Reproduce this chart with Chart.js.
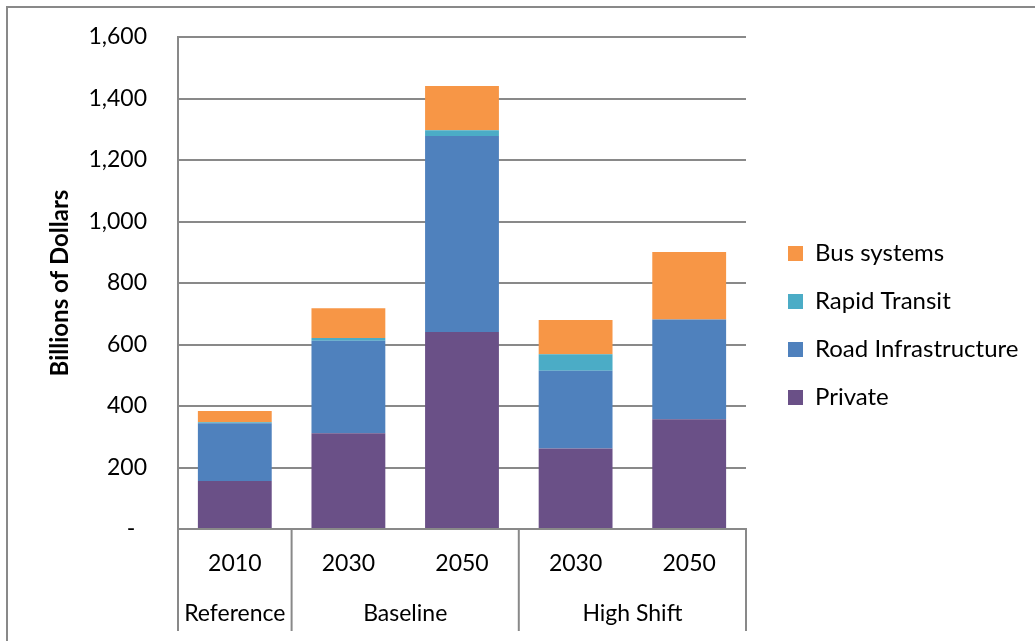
<!DOCTYPE html>
<html>
<head>
<meta charset="utf-8">
<script src="https://cdn.jsdelivr.net/npm/chart.js@4"></script>
<style>
  html, body { margin: 0; padding: 0; background: #fff; }
  #wrap { width: 1035px; height: 641px; position: relative; }
</style>
</head>
<body>
<div id="wrap"><canvas id="myChart" width="1035" height="641"></canvas></div>
<script>
// categories and groups on the x axis
const years = ['2010', '2030', '2050', '2030', '2050'];
const groupNames = ['Reference', 'Baseline', 'High Shift'];
const groupSizes = [1, 2, 2];

// billions of dollars
const privateVals = [156, 311, 641, 262, 357];
const roadVals = [188, 301, 637, 253, 324];
const rapidVals = [3, 9, 19, 53, 0];
const busVals = [37, 97, 144, 112, 220];

const yMax = 1600;
const yStep = 200;

const fontFamily = 'Lato, "Open Sans", sans-serif';
const gridColor = '#898989';
const labelSize = 23;
const legendSize = 24;
const legendPad = 24;
const legendBox = 15;
const legendLeft = 764;

const frame = {
        id: 'frame',
        beforeDraw(chart) {
                const ctx = chart.ctx;
                ctx.save();
                ctx.fillStyle = '#fff';
                ctx.fillRect(0, 0, chart.width, chart.height);
                ctx.strokeStyle = gridColor;
                ctx.lineWidth = 2;
                ctx.beginPath();
                ctx.moveTo(7, chart.height);
                ctx.lineTo(7, 7);
                ctx.lineTo(chart.width, 7);
                ctx.stroke();
                ctx.restore();
        }
};

// second row of the category axis: group names and the separators
const groupAxis = {
        id: 'groupAxis',
        afterDraw(chart) {
                const ctx = chart.ctx;
                const x = chart.scales.x;
                const half = (x.getPixelForValue(1) - x.getPixelForValue(0)) / 2;
                const top = x.top;
                const bottom = 631;
                ctx.save();
                ctx.strokeStyle = gridColor;
                ctx.lineWidth = 2;
                ctx.fillStyle = '#000';
                ctx.font = labelSize + 'px ' + fontFamily;
                ctx.textAlign = 'center';
                ctx.textBaseline = 'middle';
                let idx = 0;
                groupSizes.forEach((n, g) => {
                        const left = x.getPixelForValue(idx) - half;
                        const right = x.getPixelForValue(idx + n - 1) + half;
                        ctx.beginPath();
                        ctx.moveTo(left, top);
                        ctx.lineTo(left, bottom);
                        ctx.stroke();
                        ctx.fillText(groupNames[g], (left + right) / 2, 614);
                        idx += n;
                });
                ctx.beginPath();
                ctx.moveTo(x.right, top);
                ctx.lineTo(x.right, bottom);
                ctx.stroke();
                ctx.restore();
        }
};

function draw() {
        // room the legend needs, so the plot ends where the original does
        const measure = document.createElement('canvas').getContext('2d');
        measure.font = legendSize + 'px ' + fontFamily;
        const longest = Math.max(...['Bus systems', 'Rapid Transit', 'Road Infrastructure', 'Private'].map(t => measure.measureText(t).width));
        const legendWidth = legendPad + legendBox + legendSize / 2 + longest + 10;
        const padRight = Math.max(0, 1035 - legendLeft - legendWidth);

        const ctx = document.getElementById('myChart').getContext('2d');
        new Chart(ctx, {
                type: 'bar',
                data: {
                        labels: years,
                        datasets: [
                                { label: 'Private', data: privateVals, backgroundColor: '#6A5087' },
                                { label: 'Road Infrastructure', data: roadVals, backgroundColor: '#4F81BD' },
                                { label: 'Rapid Transit', data: rapidVals, backgroundColor: '#4BACC6' },
                                { label: 'Bus systems', data: busVals, backgroundColor: '#F79646' }
                        ]
                },
                options: {
                        responsive: false,
                        animation: false,
                        devicePixelRatio: 1,
                        barPercentage: 0.65,
                        categoryPercentage: 1,
                        layout: { padding: { left: 0, top: 37, right: padRight, bottom: 0 } },
                        font: { family: fontFamily },
                        plugins: {
                                tooltip: { enabled: false },
                                legend: {
                                        position: 'right',
                                        align: 'start',
                                        reverse: true,
                                        maxWidth: 1035 - legendLeft,
                                        title: { display: true, text: '', padding: { top: 0, bottom: 166 } },
                                        labels: {
                                                boxWidth: legendBox,
                                                boxHeight: legendBox,
                                                padding: legendPad,
                                                color: '#000',
                                                font: { family: fontFamily, size: legendSize }
                                        }
                                }
                        },
                        scales: {
                                x: {
                                        stacked: true,
                                        grid: { display: false, drawTicks: false },
                                        border: { color: gridColor, width: 2 },
                                        ticks: {
                                                color: '#000',
                                                padding: 21,
                                                maxRotation: 0,
                                                font: { family: fontFamily, size: labelSize }
                                        },
                                        afterFit(scale) { scale.height = 112; }
                                },
                                y: {
                                        stacked: true,
                                        min: 0,
                                        max: yMax,
                                        grid: { color: gridColor, lineWidth: 2, drawTicks: false },
                                        border: { color: gridColor, width: 2 },
                                        ticks: {
                                                stepSize: yStep,
                                                color: '#000',
                                                padding: 31,
                                                font: { family: fontFamily, size: labelSize },
                                                callback: v => v === 0 ? '-  ' : v.toLocaleString('en-US')
                                        },
                                        title: {
                                                display: true,
                                                text: 'Billions of Dollars',
                                                color: '#000',
                                                padding: { top: 46, bottom: 0 },
                                                font: { family: fontFamily, size: 24, weight: 'bold' }
                                        },
                                        afterFit(scale) {
                                                scale.width = 178;
                                                // the top label may sit above the plot, as in the original
                                                scale.paddingTop = 0;
                                        }
                                },
                                gap: {
                                        position: 'right',
                                        grid: { display: false, drawTicks: false },
                                        border: { display: false },
                                        ticks: { display: false },
                                        afterFit(scale) { scale.width = 18; }
                                }
                        }
                },
                plugins: [frame, groupAxis]
        });
}

Promise.all([
        document.fonts.load(labelSize + 'px Lato'),
        document.fonts.load('bold 24px Lato')
]).then(draw, draw);
</script>
</body>
</html>
